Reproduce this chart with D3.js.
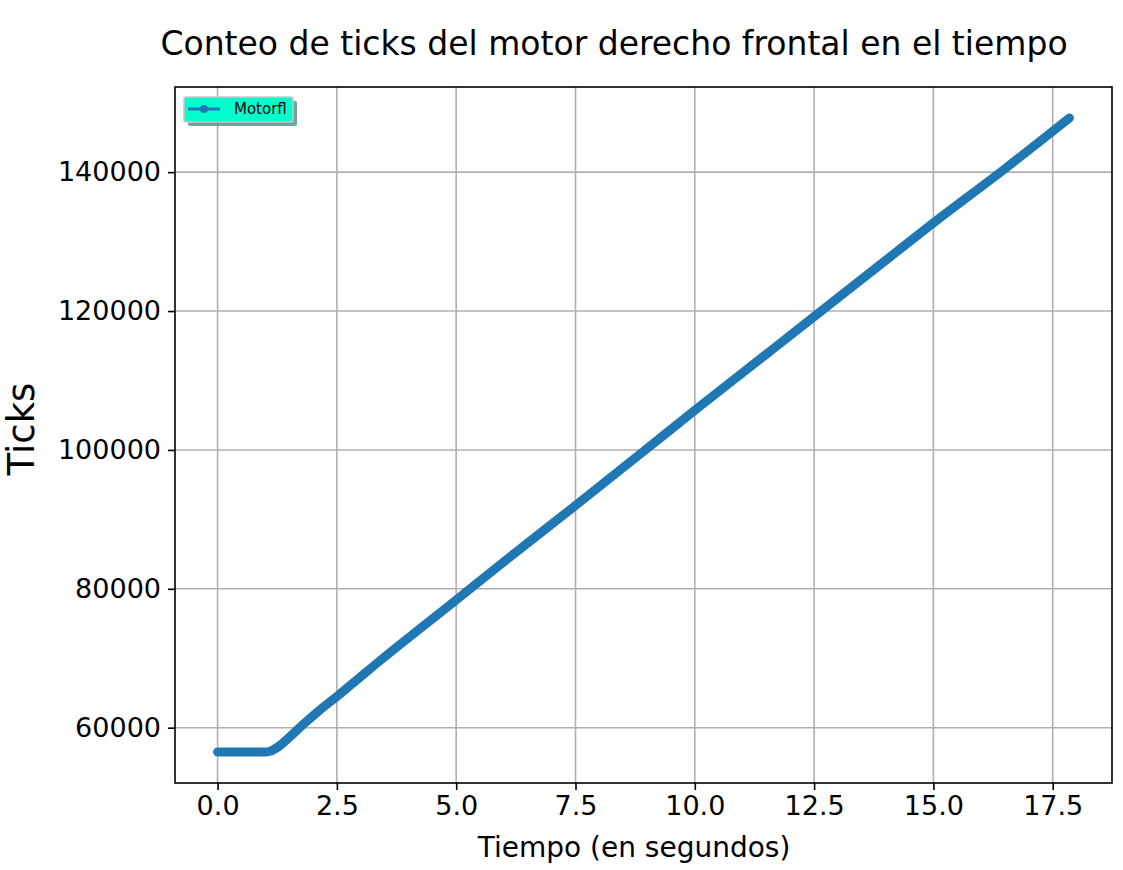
<!DOCTYPE html>
<html><head><meta charset="utf-8">
<script src="https://cdn.jsdelivr.net/npm/d3@7"></script>
<style>body{margin:0;background:#fff}</style>
</head><body>
<svg id="chart"></svg>
<script>
// time (s) and tick count
const times = [0, 0.5, 1.0, 1.1, 1.3, 1.5, 1.8, 2.1, 2.5, 3.5, 5.0, 6.0, 7.5, 9.0, 10.0, 11.5, 12.5, 14.0, 15.0, 16.5, 17.85];
const ticks = [56500, 56500, 56500, 56600, 57400, 58600, 60500, 62300, 64500, 70200, 78400, 83900, 92000, 100200, 105700, 113800, 119200, 127300, 132700, 140500, 147800];
const xTicks = [0, 2.5, 5, 7.5, 10, 12.5, 15, 17.5];
const yTicks = [60000, 80000, 100000, 120000, 140000];

const W = 1123, H = 870;
const m = { top: 87, right: 11, bottom: 87, left: 175 };
const w = W - m.left - m.right, h = H - m.top - m.bottom;
const svg = d3.select('#chart').attr('width', W).attr('height', H);
const g = svg.append('g').attr('transform', `translate(${m.left},${m.top})`);
const font = 'DejaVu Sans';

const x = d3.scaleLinear().domain([-0.8925, 18.7425]).range([0, w]);
const y = d3.scaleLinear().domain([52035, 152265]).range([h, 0]);

// grid
g.selectAll('.gx').data(xTicks).enter().append('line')
  .attr('x1', d => x(d)).attr('x2', d => x(d)).attr('y1', 0).attr('y2', h)
  .attr('stroke', '#b0b0b0').attr('stroke-width', 1.6);
g.selectAll('.gy').data(yTicks).enter().append('line')
  .attr('y1', d => y(d)).attr('y2', d => y(d)).attr('x1', 0).attr('x2', w)
  .attr('stroke', '#b0b0b0').attr('stroke-width', 1.6);

// axes
const ax = g.append('g').attr('transform', `translate(0,${h})`)
  .call(d3.axisBottom(x).tickValues(xTicks).tickFormat(d3.format('.1f')).tickSize(7).tickPadding(6));
const ay = g.append('g')
  .call(d3.axisLeft(y).tickValues(yTicks).tickFormat(d3.format('d')).tickSize(7).tickPadding(7));
[ax, ay].forEach(a => {
  a.select('.domain').remove();
  a.selectAll('line').attr('stroke', '#000').attr('stroke-width', 1.6);
  a.selectAll('text').attr('font-family', font).attr('font-size', 27).attr('fill', '#000');
});

// line
const line = d3.line().x((d, i) => x(times[i])).y(d => y(d)).curve(d3.curveMonotoneX);
g.append('path').datum(ticks).attr('d', line)
  .attr('fill', 'none').attr('stroke', '#1f77b4').attr('stroke-width', 9).attr('stroke-linecap', 'round');

g.append('rect').attr('width', w).attr('height', h).attr('fill', 'none').attr('stroke', '#000').attr('stroke-width', 1.6);

// legend
const lg = g.append('g').attr('transform', 'translate(9,10)');
lg.append('rect').attr('x', 4).attr('y', 4).attr('width', 109).attr('height', 25).attr('rx', 2)
  .attr('fill', '#4c8c80').attr('opacity', 0.8);
lg.append('rect').attr('width', 109).attr('height', 25).attr('rx', 2)
  .attr('fill', '#00ffcc').attr('stroke', '#c8c8c8').attr('stroke-width', 1.5);
lg.append('line').attr('x1', 4).attr('x2', 36).attr('y1', 12).attr('y2', 12)
  .attr('stroke', '#1f77b4').attr('stroke-width', 3);
lg.append('circle').attr('cx', 20).attr('cy', 12).attr('r', 4).attr('fill', '#1f77b4');
lg.append('text').attr('x', 50).attr('y', 17).attr('font-family', font).attr('font-size', 15).text('Motorfl');

// titles
svg.append('text').attr('x', 614).attr('y', 55).attr('text-anchor', 'middle')
  .attr('font-family', font).attr('font-size', 33).text('Conteo de ticks del motor derecho frontal en el tiempo');
svg.append('text').attr('x', 634).attr('y', 857).attr('text-anchor', 'middle')
  .attr('font-family', font).attr('font-size', 28).text('Tiempo (en segundos)');
svg.append('text').attr('transform', `translate(34,${m.top + h / 2 - 6}) rotate(-90)`).attr('text-anchor', 'middle')
  .attr('font-family', font).attr('font-size', 37).text('Ticks');
</script>
</body></html>
